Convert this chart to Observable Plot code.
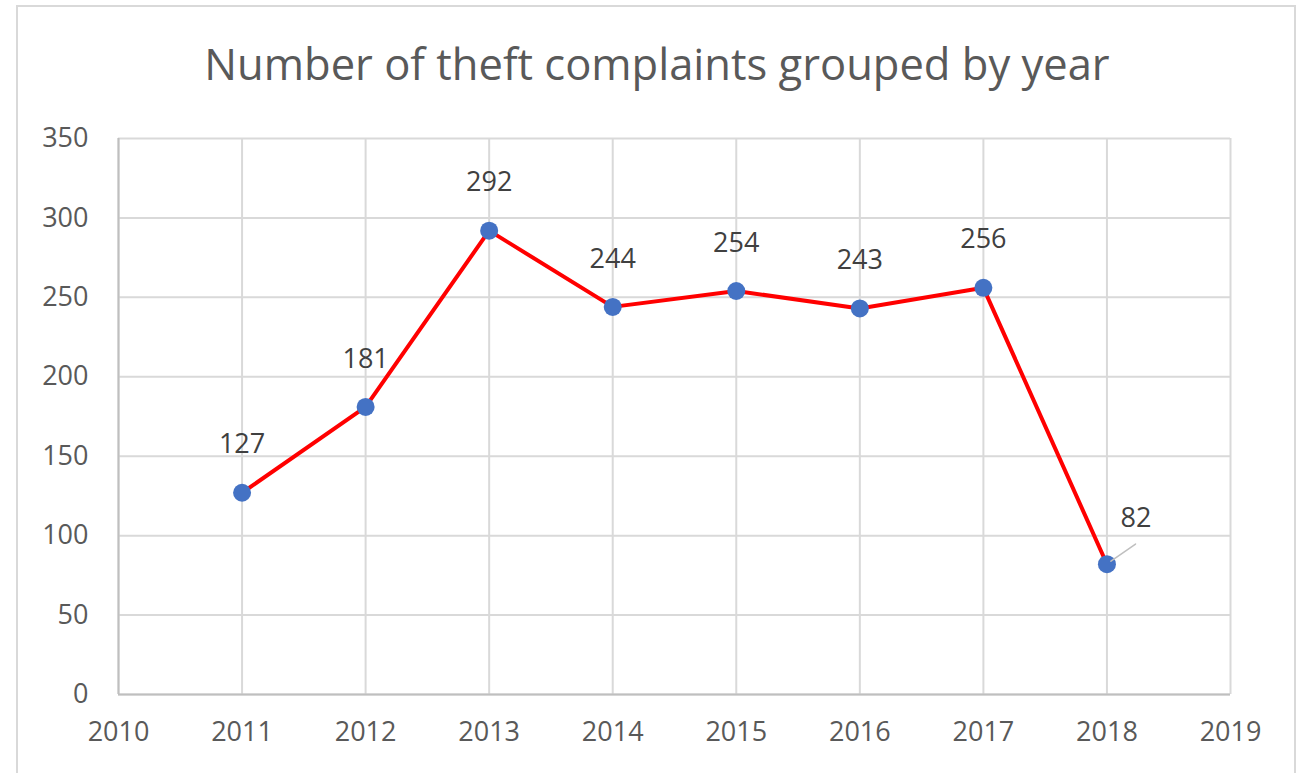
<!DOCTYPE html>
<html>
<head>
<meta charset="utf-8">
<script src="https://cdn.jsdelivr.net/npm/d3@7"></script>
<script src="https://cdn.jsdelivr.net/npm/@observablehq/plot@0.6"></script>
<style>
  html, body { margin: 0; padding: 0; background: #fff; }
  body { width: 1304px; height: 773px; position: relative; overflow: hidden; font-family: "Open Sans", sans-serif; }
  #frame { position: absolute; left: 16px; top: 5px; width: 1280px; height: 800px; border: 2px solid #d9d9d9; box-sizing: border-box; }
  #title { position: absolute; left: 0; width: 1314px; top: 34px; text-align: center; font-size: 43.5px; color: #595959; letter-spacing: 0px; }
  #chart { position: absolute; left: 0; top: 100px; }
</style>
</head>
<body>
<div id="frame"></div>
<div id="title">Number of theft complaints grouped by year</div>
<div id="chart"></div>
<script>
const years = [2011, 2012, 2013, 2014, 2015, 2016, 2017, 2018];
const complaints = [127, 181, 292, 244, 254, 243, 256, 82];
const xTicks = [2010, 2011, 2012, 2013, 2014, 2015, 2016, 2017, 2018, 2019];
const yTicks = [0, 50, 100, 150, 200, 250, 300, 350];

const data = years.map((y, i) => ({year: y, value: complaints[i]}));
const mainLabels = data.filter(d => d.year !== 2018);
const sideLabels = data.filter(d => d.year === 2018);

const leader = {
  draw(context, l) {
    context.moveTo(0, 0);
    context.lineTo(0, -l);
  }
};

const chart = Plot.plot({
  width: 1304,
  height: 673,
  marginLeft: 118,
  marginRight: 74,
  marginTop: 38,
  marginBottom: 79,
  style: { fontFamily: "Open Sans, sans-serif", fontSize: "27px", color: "#595959", background: "transparent" },
  x: { domain: [2010, 2019], ticks: xTicks, tickFormat: d => String(d), tickSize: 0, tickPadding: 28, label: null },
  y: { domain: [0, 350], ticks: yTicks, tickSize: 0, tickPadding: 30, label: null },
  marks: [
    Plot.gridX(xTicks, { stroke: "#d9d9d9", strokeOpacity: 1, strokeWidth: 2 }),
    Plot.gridY(yTicks, { stroke: "#d9d9d9", strokeOpacity: 1, strokeWidth: 2 }),
    Plot.ruleY([0], { stroke: "#bfbfbf", strokeWidth: 2 }),
    Plot.ruleX([2010], { stroke: "#bfbfbf", strokeWidth: 2 }),
    Plot.axisX({ ticks: xTicks, tickFormat: d => String(d), tickSize: 0, tickPadding: 27, fontSize: 27, fill: "#595959" }),
    Plot.axisY({ ticks: yTicks, tickSize: 0, tickPadding: 30, fontSize: 27, fill: "#595959" }),
    Plot.line(data, { x: "year", y: "value", stroke: "#ff0000", strokeWidth: 4 }),
    Plot.dot(data, { x: "year", y: "value", r: 9, fill: "#4472c4", stroke: "none" }),
    Plot.vector(sideLabels, { x: "year", y: "value", length: 30, rotate: 55, anchor: "start", shape: leader, stroke: "#bfbfbf", strokeWidth: 1.5, dx: 4, dy: -3 }),
    Plot.text(mainLabels, { x: "year", y: "value", text: d => String(d.value), dy: -48, fontSize: 27, fill: "#404040" }),
    Plot.text(sideLabels, { x: "year", y: "value", text: d => String(d.value), dx: 29, dy: -46, fontSize: 27, fill: "#404040" })
  ]
});
document.getElementById("chart").appendChild(chart);
</script>
</body>
</html>
